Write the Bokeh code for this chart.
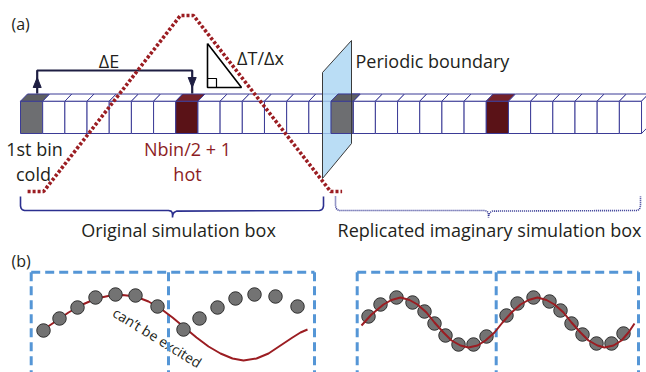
from bokeh.plotting import figure
from bokeh.models import Range1d
from bokeh.embed import file_html
from bokeh.resources import INLINE
from bokeh.core.properties import value

# ---------------- data ----------------
n_bins_per_box = 14
n_boxes = 2
cold_bin = 0          # "1st bin"
hot_bin = 7           # Nbin/2 + 1 (1-based) -> index 7

# temperature profile: position in bin units, normalised temperature
profile_bin = [0.32, 1.04, 7.21, 7.80, 13.98, 14.50]
profile_T = [0.0, 0.0, 1.0, 1.0, 0.0, 0.0]

# panel (b) left: atoms and the long-wavelength mode (picture coords)
left_dots_x = [43, 59, 77, 95, 115, 135, 157, 183, 199, 217, 235, 254, 275, 297]
left_dots_y = [330, 318, 307, 297, 294, 295, 306, 329, 318, 307, 298, 294, 296, 306]
left_curve_x = [43, 55, 68, 82, 96, 110, 122, 135, 148, 160, 172, 184, 196, 208,
                220, 232, 243, 256, 268, 280, 292, 300, 307]
left_curve_y = [329, 321, 312, 304, 298, 295, 294.5, 296, 301, 308, 317, 327, 337, 346,
                353, 358, 360, 358, 353, 345, 337, 332, 329]

# panel (b) right: atoms and the allowed mode
right_dots_x = [368, 380, 396, 412, 424, 434, 445, 458, 473, 486,
                506, 517, 533, 549, 560, 571, 582, 596, 611, 623]
right_dots_y = [316, 304, 297, 302, 311, 323, 335, 344, 344, 336,
                315, 303, 297, 301, 310, 323, 334, 343, 343, 333]
right_curve_x = [361, 371, 383, 391, 400, 409, 417, 426, 434, 443, 451, 460, 468,
                 477, 485, 494, 502, 511, 520, 528, 537, 546, 554, 563, 571, 580,
                 588, 597, 604, 613, 621, 628, 634]
right_curve_y = [325, 314, 304, 299.5, 297, 299.5, 304, 312, 322, 332, 340, 345, 347,
                 345, 340, 332, 322, 312, 304, 299.5, 297, 299.5, 304, 312, 322, 332,
                 340, 345, 347, 345, 340, 332, 323]

# ---------------- layout constants ----------------
X0, W = 20.0, 22.18
YT, YB = 100.7, 133.0
DX, DY = 7.0, 7.2
Y_COLD, Y_HOT = 191.0, 15.0

EDGE = "#3b3b96"
GRAY, GRAY_TOP = "#6d6e71", "#5e5f62"
HOT, HOT_TOP = "#5a1217", "#74222a"
RED = "#9b1d22"
NAVY = "#1e1e42"
BLUE = "#5596d6"
FONT = value("Open Sans")
TXT = "#231f20"

p = figure(width=646, height=372, output_backend="svg", toolbar_location=None,
           x_range=Range1d(0, 646), y_range=Range1d(372, 0),
           x_axis_type=None, y_axis_type=None, min_border=0)
p.grid.visible = False
p.outline_line_color = None
p.background_fill_color = "white"

# ---------------- bin strip ----------------
n = n_bins_per_box * n_boxes
lefts = [X0 + i * W for i in range(n)]
def bin_color(i):
    k = i % n_bins_per_box
    if k == cold_bin:
        return GRAY, GRAY_TOP
    if k == hot_bin:
        return HOT, HOT_TOP
    return "white", "white"

fronts = [bin_color(i)[0] for i in range(n)]
tops = [bin_color(i)[1] for i in range(n)]
p.quad(left=lefts, right=[l + W for l in lefts], top=YT, bottom=YB,
       fill_color=fronts, line_color=EDGE, line_width=1)
p.patches(xs=[[l, l + W, l + W + DX, l + DX] for l in lefts],
          ys=[[YT, YT, YT - DY, YT - DY] for _ in lefts],
          fill_color=tops, line_color=EDGE, line_width=1)
xe = X0 + n * W
p.patch([xe, xe + DX, xe + DX, xe], [YT, YT - DY, YB - DY, YB],
        fill_color="white", line_color=EDGE, line_width=1)

# periodic boundary plane
p.patch([322, 351, 351, 322], [72, 40, 143, 178], fill_color="#a9d5f3",
        fill_alpha=0.8, line_color=None)
# cold bin of replicated box in front of the plane
lg = X0 + n_bins_per_box * W
p.quad(left=[lg], right=[lg + W], top=YT, bottom=YB, fill_color=GRAY,
       line_color=EDGE, line_width=1)
p.patch([lg, lg + W, lg + W + DX, lg + DX], [YT, YT, YT - DY, YT - DY],
        fill_color=GRAY_TOP, line_color=EDGE, line_width=1)
p.patch([322, 351, 351, 322], [72, 40, 143, 178], fill_color=None,
        line_color="#3a3a3a", line_width=1)

# delta E arrow
p.line([36.7, 36.7, 191.7, 191.7], [93, 70, 70, 93], line_color=NAVY, line_width=2.2)
p.patch([32.7, 40.7, 36.7], [87, 87, 77], fill_color=NAVY, line_color=NAVY)
p.patch([187.7, 195.7, 191.7], [77, 77, 87], fill_color=NAVY, line_color=NAVY)

# gradient triangle
p.line([207, 207, 241, 207], [43, 87, 87, 43], line_color="black", line_width=1.6)
p.line([207, 216, 216], [78, 78, 87], line_color="black", line_width=1.2)

# temperature profile
px = [X0 + b * W for b in profile_bin]
py = [Y_COLD - t * (Y_COLD - Y_HOT) for t in profile_T]
p.line(px, py, line_color=RED, line_width=3.6, line_dash="3 2")

# braces
by = [196, 205.5, 207.8, 209.2, 210, 210, 210.6, 212, 214, 217, 214, 212, 210.6,
      210, 209.2, 207.8, 205.5, 196]
bx = [20, 20, 20.6, 21.8, 24, 168, 170.5, 171.6, 172, 172, 172.4, 173.5, 176,
      319, 321.2, 322.4, 323, 323]
p.line(bx, by, line_color="#2b2f8f", line_width=1.6)
rx = [335, 335, 335.6, 336.8, 339, 484, 486.5, 487.6, 488, 488, 488.4, 489.5, 492,
      636, 638.2, 639.4, 640, 640]
p.line(rx, by, line_color="#2b2f8f", line_width=1.6, line_dash="1 1")

# ---------------- texts ----------------
def txt(x, y, s, size, color=TXT, align="center", angle=0.0):
    p.text(x=[x], y=[y], text=[s], text_font=FONT, text_font_size=size,
           text_color=color, text_align=align, text_baseline="middle", angle=angle)

txt(11, 23, "(a)", "16px", align="left")
txt(108.5, 60, "ΔE", "18px")
txt(260, 57, "ΔT/Δx", "18px")
txt(355, 60, "Periodic boundary", "18px", align="left")
txt(34, 148, "1st bin", "18px")
txt(33, 173, "cold", "18px")
txt(187, 148, "Nbin/2 + 1", "18px", color="#8c1d24")
txt(187, 173, "hot", "18px", color="#8c1d24")
txt(178, 229, "Original simulation box", "18px")
txt(489, 229, "Replicated imaginary simulation box", "18px")
txt(11, 260, "(b)", "16px", align="left")

# ---------------- panel (b) ----------------
txt(157, 337, "can’t be excited", "14px", angle=-0.55)
dash = dict(line_color=BLUE, line_width=3, line_dash="9 5")
for (a, m, b) in [(30.7, 168, 314), (356.7, 495.7, 638)]:
    p.line([a, b], [271.7, 271.7], **dash)
    p.line([a, a], [271.7, 380], **dash)
    p.line([m, m], [271.7, 380], **dash)
    p.line([b, b], [271.7, 380], **dash)

p.line(left_curve_x, left_curve_y, line_color=RED, line_width=2)
p.scatter(left_dots_x, left_dots_y, size=13.5, fill_color="#737373",
          line_color="#2f2f2f", line_width=1)
p.scatter(right_dots_x, right_dots_y, size=13.5, fill_color="#737373",
          line_color="#2f2f2f", line_width=1)
p.line(right_curve_x, right_curve_y, line_color=RED, line_width=2)

open("out.html", "w").write(file_html(p, INLINE))
